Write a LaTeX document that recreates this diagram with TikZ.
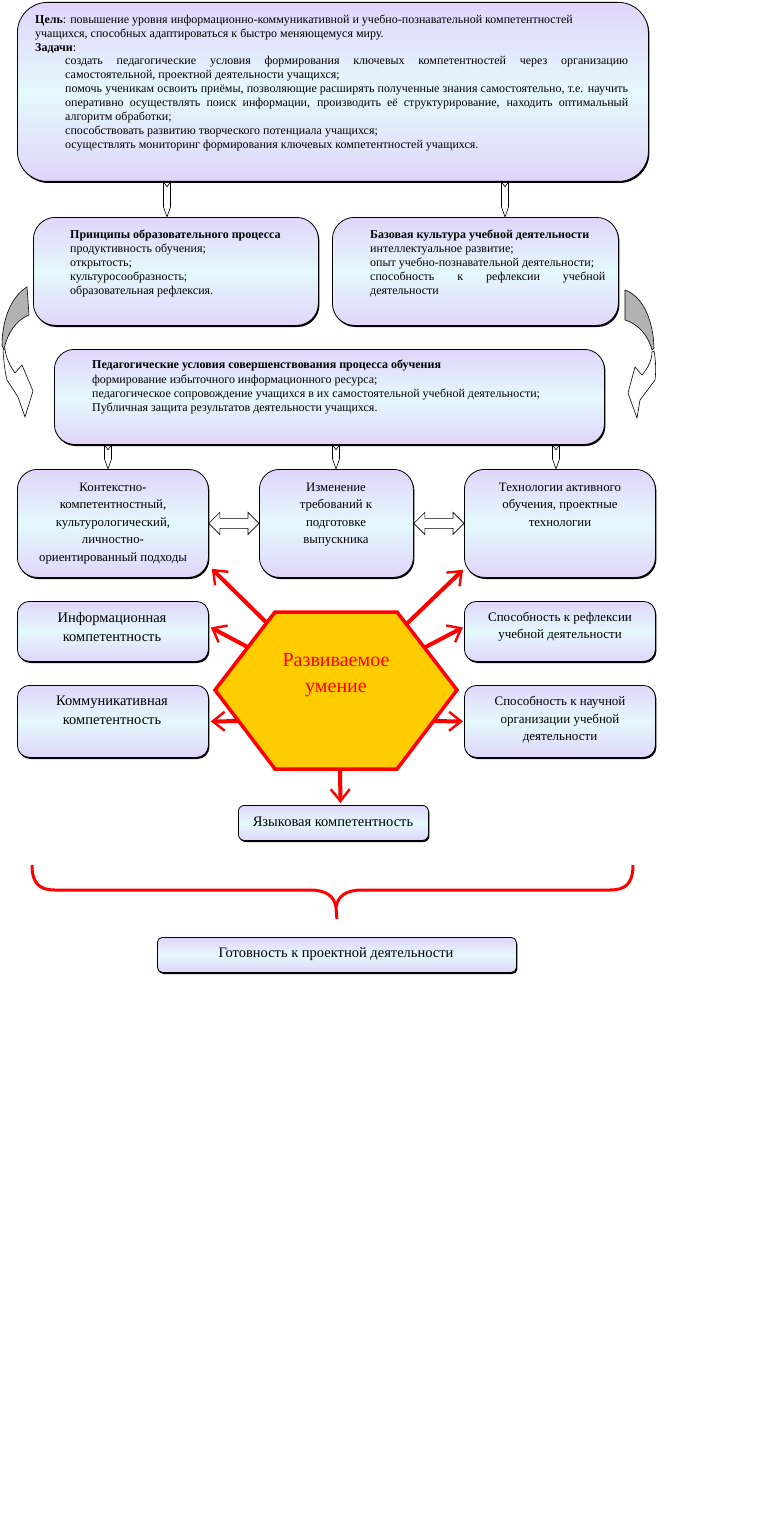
\documentclass[tikz,border=0pt]{standalone}
\usepackage{fontspec}
\setmainfont{Liberation Serif}
\usetikzlibrary{arrows.meta,calc,shadows}

\definecolor{lavend}{RGB}{224,213,250}
\definecolor{icecyan}{RGB}{228,249,253}
\definecolor{skillgold}{RGB}{255,204,0}
\definecolor{curvgrey}{RGB}{178,178,178}

\tikzset{
  card/.style={draw=black, line width=0.8pt, top color=lavend, bottom color=lavend, middle color=icecyan,
    drop shadow={shadow xshift=1pt, shadow yshift=-1.6pt, fill=black, opacity=1},
    inner sep=0pt, anchor=north west},
  txt/.style={inner sep=0pt, align=left},
  ctxt/.style={inner sep=0pt, align=center, anchor=north},
  redarrow/.style={draw=red, line width=4pt, -{Straight Barb[length=12pt,width=19pt,line width=2.4pt]}},
  hexa/.style={draw=red, line width=3.5pt, fill=skillgold, line join=miter},
  bracered/.style={draw=red, line width=3pt},
}

% narrow hollow arrow pointing down, #1 top point, #2 bottom point
\newcommand{\thinarrow}[2]{%
  \draw[fill=white, line width=0.6pt] let \p1=(#1), \p2=(#2) in
    ({\x1-3.5pt},\y1) -- (\x1,{\y1+5pt}) -- ({\x1+3.5pt},\y1) -- ({\x1+3.5pt},{\y2-10pt})
    -- (\x1,\y2) -- ({\x1-3.5pt},{\y2-10pt}) -- cycle;}
% hollow double arrow, #1 left point, #2 right point
\newcommand{\wideboth}[2]{%
  \draw[fill=white, line width=0.6pt] let \p1=(#1), \p2=(#2) in
    (\x1,\y1) -- ({\x1+11pt},{\y1+11pt}) -- ({\x1+11pt},{\y1+5pt}) -- ({\x2-11pt},{\y1+5pt})
    -- ({\x2-11pt},{\y1+11pt}) -- (\x2,\y1) -- ({\x2-11pt},{\y1-11pt}) -- ({\x2-11pt},{\y1-5pt})
    -- ({\x1+11pt},{\y1-5pt}) -- ({\x1+11pt},{\y1-11pt}) -- cycle;}

\begin{document}
\begin{tikzpicture}[x=1pt,y=1pt,yscale=-1,xscale=1]
        \useasboundingbox (0,0) rectangle (760,1517);
        \fill[white] (0,0) rectangle (760,1517);
        %Rounded Rect [goal]
        \node[card, rounded corners=30pt, minimum width=631pt, minimum height=179pt] (goal) at (17,2) {};
        %Rounded Rect [principles, basic culture]
        \node[card, rounded corners=22pt, minimum width=285pt, minimum height=108pt] (princ) at (33,217) {};
        \node[card, rounded corners=22pt, minimum width=286pt, minimum height=108pt] (base) at (332,217) {};
        %Rounded Rect [conditions]
        \node[card, rounded corners=20pt, minimum width=550pt, minimum height=95pt] (cond) at (54,349) {};
        %Rounded Rect [row of three]
        \node[card, rounded corners=20pt, minimum width=191pt, minimum height=108pt] (ctx) at (17,469) {};
        \node[card, rounded corners=20pt, minimum width=154pt, minimum height=108pt] (req) at (259,469) {};
        \node[card, rounded corners=20pt, minimum width=191pt, minimum height=108pt] (tech) at (464,469) {};
        %Rounded Rect [competences]
        \node[card, rounded corners=12pt, minimum width=191pt, minimum height=60pt] (info) at (17,601) {};
        \node[card, rounded corners=12pt, minimum width=191pt, minimum height=60pt] (refl) at (464,601) {};
        \node[card, rounded corners=12pt, minimum width=191pt, minimum height=72pt] (comm) at (17,685) {};
        \node[card, rounded corners=12pt, minimum width=191pt, minimum height=72pt] (sci) at (464,685) {};
        \node[card, rounded corners=6pt, minimum width=190pt, minimum height=35pt] (lang) at (238,805) {};
        \node[card, rounded corners=5pt, minimum width=359pt, minimum height=35pt] (ready) at (157,937) {};

        %Arrow columns
        \coordinate (c1) at (167,0);
        \coordinate (c2) at (505,0);
        \coordinate (c3) at (108,0);
        \coordinate (c4) at (336,0);
        \coordinate (c5) at (556,0);
        \thinarrow{goal.south -| c1}{princ.north -| c1}
        \thinarrow{goal.south -| c2}{base.north -| c2}
        \thinarrow{cond.south -| c3}{ctx.north -| c3}
        \thinarrow{cond.south -| c4}{req.north -| c4}
        \thinarrow{cond.south -| c5}{tech.north -| c5}
        %Double arrows
        \wideboth{ctx.east}{req.west}
        \wideboth{req.east}{tech.west}

        %Curved arrow left
        \draw[fill=curvgrey, line width=0.6pt] (27,287) .. controls (12,296) and (2,318) .. (2,346) -- (4,349) .. controls (7,334) and (16,320) .. (29,315) -- cycle;
        \draw[fill=white, line width=0.6pt] (3,350) .. controls (4,364) and (5,372) .. (7,380) -- (18,397) -- (25,417) -- (33,391) -- (22,365) -- (15,373) .. controls (10,366) and (6,358) .. (5,349) -- cycle;
        %Curved arrow right
        \draw[fill=curvgrey, line width=0.6pt] (625,290) .. controls (642,296) and (653,318) .. (654,348) -- (652,350) .. controls (648,335) and (638,324) .. (625,320) -- cycle;
        \draw[fill=white, line width=0.6pt] (654,351) .. controls (656,362) and (656,372) .. (655,380) -- (640,400) -- (637,418) -- (628,393) -- (635,367) -- (642,375) .. controls (648,368) and (652,360) .. (652,352) -- cycle;

        %Red arrows from the hexagon
        \coordinate (hexc) at (336,690);
        \draw[redarrow] ($(hexc)+(-58,-56)$) -- ([xshift=3pt,yshift=-9pt]ctx.south east);
        \draw[redarrow] ($(hexc)+(59,-55)$) -- ([xshift=-1pt,yshift=-8pt]tech.south west);
        \draw[redarrow] ($(hexc)+(-81,-39)$) -- ([xshift=2pt,yshift=-4pt]info.east);
        \draw[redarrow] ($(hexc)+(82,-39)$) -- ([xshift=-1pt,yshift=-4pt]refl.west);
        \draw[redarrow] ($(hexc)+(-86,31)$) -- ([xshift=2pt]comm.east);
        \draw[redarrow] ($(hexc)+(86,31)$) -- ([xshift=-1pt]sci.west);
        \draw[redarrow] ($(hexc)+(4,70)$) -- ([xshift=7pt,yshift=-2pt]lang.north);
        %Hexagon
        \coordinate (h1) at (215,690);
        \coordinate (h2) at (275,612);
        \coordinate (h3) at (397,612);
        \coordinate (h4) at (457,690);
        \coordinate (h5) at (397,769);
        \coordinate (h6) at (275,769);
        \draw[hexa] (h1) -- (h2) -- (h3) -- (h4) -- (h5) -- (h6) -- cycle;

        %Brace
        \coordinate (brl) at (32,865);
        \coordinate (brr) at (633,865);
        \coordinate (brt) at ([yshift=-18pt]ready.north);
        \draw[bracered] (brl) .. controls (32,884) and (40,890) .. (55,890) -- (310,890) .. controls (326,890) and (334,896) .. (336,907) -- (brt);
        \draw[bracered] (brr) .. controls (633,884) and (625,890) .. (610,890) -- (362,890) .. controls (346,890) and (338,896) .. (336,907);

        % Text Node
        \draw (35,14.5) node [txt, anchor=north west, font=\fontsize{12}{13.9}\selectfont] (goaltxt) {\textbf{Цель}: повышение уровня информационно-коммуникативной и учебно-познавательной компетентностей\\
          учащихся, способных адаптироваться к быстро меняющемуся миру.\\
          \textbf{Задачи}:\\
          \hspace*{30pt}\hbox to 563pt{создать педагогические условия формирования ключевых компетентностей через организацию}\\
          \hspace*{30pt}самостоятельной, проектной деятельности учащихся;\\
          \hspace*{30pt}\hbox to 563pt{помочь ученикам освоить приёмы, позволяющие расширять полученные знания самостоятельно, т.е. научить}\\
          \hspace*{30pt}\hbox to 563pt{оперативно осуществлять поиск информации, производить её структурирование, находить оптимальный}\\
          \hspace*{30pt}алгоритм обработки;\\
          \hspace*{30pt}способствовать развитию творческого потенциала учащихся;\\
          \hspace*{30pt}осуществлять мониторинг формирования ключевых компетентностей учащихся.};
        % Text Node
        \draw (70,230) node [txt, anchor=north west, font=\fontsize{12}{14}\selectfont] (princtxt) {\textbf{Принципы образовательного процесса}\\
          продуктивность обучения;\\ открытость;\\ культуросообразность;\\ образовательная рефлексия.};
        % Text Node
        \draw (370,230) node [txt, anchor=north west, font=\fontsize{12}{14}\selectfont] (basetxt) {\textbf{Базовая культура учебной деятельности}\\
          интеллектуальное развитие;\\ опыт учебно-познавательной деятельности;\\
          \hbox to 235pt{способность к рефлексии учебной}\\ деятельности};
        % Text Node
        \draw (92,360) node [txt, anchor=north west, font=\fontsize{12}{14.3}\selectfont] (condtxt) {\textbf{Педагогические условия совершенствования процесса обучения}\\
          формирование избыточного информационного ресурса;\\
          педагогическое сопровождение учащихся в их самостоятельной учебной деятельности;\\
          Публичная защита результатов деятельности учащихся.};
        % Text Node
        \draw (113,483) node [ctxt, font=\fontsize{12.8}{17.4}\selectfont] (ctxtxt) {Контекстно-\\компетентностный,\\культурологический,\\личностно-\\ориентированный подходы};
        \draw (336,483) node [ctxt, font=\fontsize{12.8}{17.4}\selectfont] (reqtxt) {Изменение\\требований к\\подготовке\\выпускника};
        \draw (560,483) node [ctxt, font=\fontsize{12.8}{17.4}\selectfont] (techtxt) {Технологии активного\\обучения, проектные\\технологии};
        % Text Node
        \draw (112,612) node [ctxt, font=\fontsize{14.5}{19}\selectfont] (infotxt) {Информационная\\компетентность};
        \draw (112,696) node [ctxt, font=\fontsize{14.5}{19}\selectfont] (commtxt) {Коммуникативная\\компетентность};
        \draw (560,612) node [ctxt, font=\fontsize{13}{17}\selectfont] (refltxt) {Способность к рефлексии\\учебной деятельности};
        \draw (560,696) node [ctxt, font=\fontsize{13}{17.5}\selectfont] (scitxt) {Способность к научной\\организации учебной\\деятельности};
        \draw (333,816.5) node [ctxt, font=\fontsize{14.5}{17}\selectfont] (langtxt) {Языковая компетентность};
        \draw (336,947.5) node [ctxt, font=\fontsize{14.5}{17}\selectfont] (readytxt) {Готовность к проектной деятельности};
        % Text Node
        \draw (336,653) node [ctxt, text=red, font=\fontsize{20}{26}\selectfont] (skill) {Развиваемое\\умение};
\end{tikzpicture}
\end{document}
